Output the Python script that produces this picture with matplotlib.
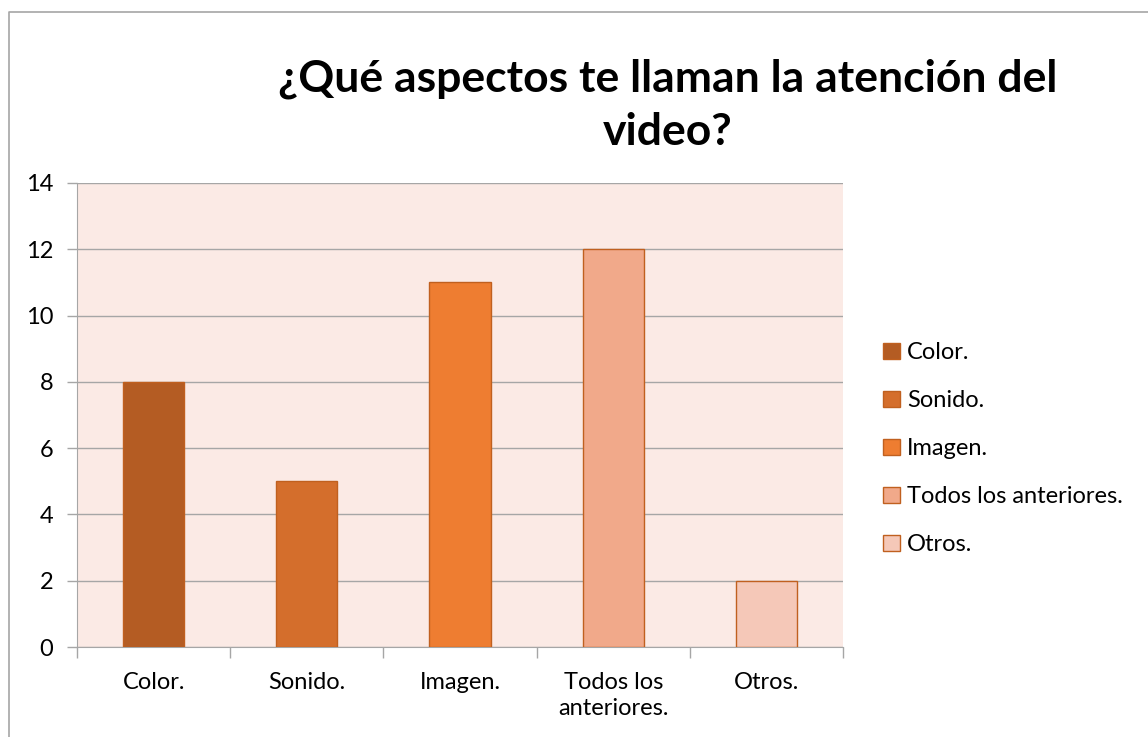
import matplotlib
matplotlib.use("Agg")
import matplotlib.pyplot as plt
from matplotlib.patches import Patch
from matplotlib.lines import Line2D

plt.rcParams['font.family'] = ['Lato', 'DejaVu Sans']

# Datos
categorias = ["Color.", "Sonido.", "Imagen.", "Todos los anteriores.", "Otros."]
etiquetas_x = ["Color.", "Sonido.", "Imagen.", "Todos los\nanteriores.", "Otros."]
valores = [8, 5, 11, 12, 2]
colores = ["#B45C23", "#D46E2C", "#EE7D31", "#F1A98A", "#F5C8B8"]
borde = "#C0601F"

fig = plt.figure(figsize=(11.48, 7.37), dpi=100)
ax = fig.add_axes([0.0671, 0.1221, 0.6672, 0.6296])
ax.set_facecolor("#FBEAE5")

pos = range(len(valores))
ax.bar(pos, valores, width=0.4, color=colores, edgecolor=borde, linewidth=1, zorder=3)

ax.set_xlim(-0.5, len(valores) - 0.5)
ax.set_ylim(0, 14)
ax.set_yticks(range(0, 15, 2))
ax.yaxis.grid(True, color="#A6A6A6", linewidth=1, zorder=0)
ax.set_axisbelow(True)

ax.set_xticks(list(pos))
ax.set_xticklabels(etiquetas_x, fontsize=17, linespacing=1.3)
ax.set_xticks([p - 0.5 for p in range(len(valores) + 1)], minor=True)
ax.tick_params(axis="x", which="major", length=0, pad=18)
ax.tick_params(axis="x", which="minor", length=8, color="#A6A6A6", width=1)
ax.tick_params(axis="y", length=7, color="#A6A6A6", width=1, labelsize=17, pad=10)

for s in ["top", "right"]:
    ax.spines[s].set_visible(False)
ax.spines["left"].set_color("#A6A6A6")
ax.spines["bottom"].set_color("#A6A6A6")

fig.text(0.582, 0.857, "¿Qué aspectos te llaman la atención del\nvideo?",
         ha="center", va="center", fontsize=32, fontweight="bold",
         linespacing=1.38)

handles = [Patch(facecolor=c, edgecolor=borde, linewidth=1) for c in colores]
fig.legend(handles, categorias, loc="center left", bbox_to_anchor=(0.751, 0.391),
           frameon=False, fontsize=17, handlelength=0.7, handleheight=0.7,
           handletextpad=0.3, labelspacing=1.14)

# marco del gráfico
fig.add_artist(Line2D([0.0078, 0.0078, 1.0], [0.0, 0.9837, 0.9837],
                      transform=fig.transFigure, color="#A6A6A6", linewidth=1.2))

fig.savefig("out.png", dpi=100)
